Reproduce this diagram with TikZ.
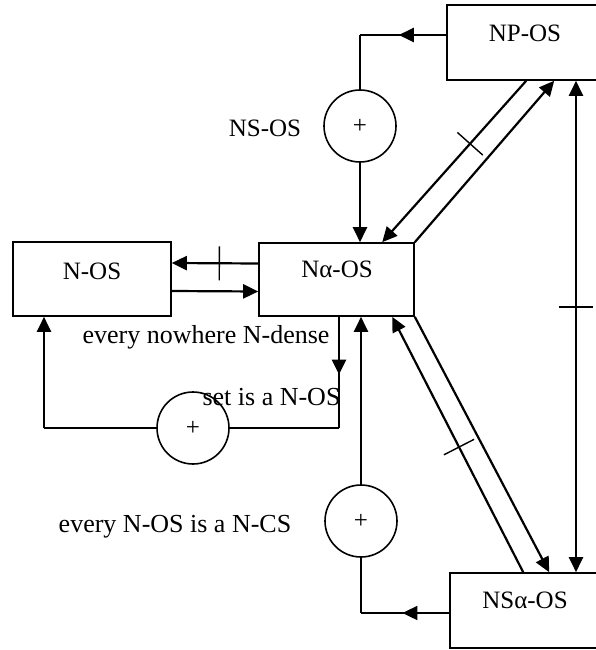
\documentclass[tikz,border=0pt]{standalone}
\usepackage{fontspec}
\setmainfont{Liberation Serif}
\usetikzlibrary{arrows.meta,decorations.markings}
\tikzset{
  box/.style={draw, line width=1.6pt, rectangle, inner sep=0pt},
  sumc/.style={draw, circle, line width=1.6pt, minimum size=72pt, inner sep=0pt, font=\fontsize{25}{25}\selectfont},
  lbl/.style={font=\fontsize{25}{25}\selectfont, inner sep=0pt},
  txt/.style={font=\fontsize{26}{26}\selectfont, inner sep=0pt},
  conn/.style={line width=2.2pt},
  arr/.style={conn, -{Triangle[length=15pt,width=14pt]}},
  arrboth/.style={conn, {Triangle[length=15pt,width=14pt]}-{Triangle[length=15pt,width=14pt]}},
  midarrow/.style={conn, postaction={decorate}, decoration={markings, mark=at position #1 with {\arrow{Triangle[length=15pt,width=14pt]}}}},
  midarrow/.default=0.5,
  tickmark/.style={postaction={decorate}, decoration={markings, mark=at position #1 with {\draw[-, line width=1.4pt] (0pt,-17pt) -- (0pt,17pt);}}},
}
\begin{document}
\begin{tikzpicture}[x=1pt,y=-1pt]
\fill[white] (0,0) rectangle (595,650);
\useasboundingbox (0,0) rectangle (595,650);

% boxes
\node[box, minimum width=153pt, minimum height=75pt] (np) at (523.5,42.5) {};
\node[box, minimum width=158pt, minimum height=74pt] (nos) at (92,279) {};
\node[box, minimum width=155pt, minimum height=73pt] (na) at (336.5,279.5) {};
\node[box, minimum width=150pt, minimum height=75pt] (nsa) at (525,610.5) {};

% box labels
\node[lbl] (npl) at (525,33) {NP-OS};
\node[lbl] (nosl) at (92,271) {N-OS};
\node[lbl] (nal) at (337,269) {Nα-OS};
\node[lbl] (nsal) at (525,600) {NSα-OS};

% summing circles
\node[sumc] (c1) at (360,126) {+};
\node[sumc] (c2) at (193,428) {+};
\node[sumc] (c3) at (361,521) {+};

% texts
\node[lbl] (t1) at (265,128) {NS-OS};
\node[txt, anchor=base] (t2) at (206,343) {every nowhere N-dense};
\node[txt, anchor=base] (t3) at (271.5,405) {set is a N-OS};
\node[txt, anchor=base] (t4) at (175,532) {every N-OS is a N-CS};

% helper coordinates
\coordinate (k1) at (360,35);
\coordinate (k2) at (339,428);
\coordinate (k3) at (44,428);
\coordinate (k4) at (361,613);
\coordinate (k5) at (576,300);

% NP-OS -> NS-OS sum -> Na-OS
\draw[midarrow=0.55] (np.west |- k1) -- (k1);
\draw[conn] (k1) -- (c1.north);
\draw[arr] (c1.south) -- (c1.south |- na.north);

% Na-OS <-> N-OS
\draw[arr, tickmark=0.45] ([yshift=16pt]na.west) -- ([yshift=16pt]nos.east);
\draw[arr] ([yshift=-12pt]nos.east) -- ([yshift=-12pt]na.west);

% Na-OS -> sum -> N-OS
\draw[midarrow=0.52] (na.south -| k2) -- (k2);
\draw[conn] (k2) -- (c2.east);
\draw[conn] (c2.west) -- (k3);
\draw[arr] (k3) -- (k3 |- nos.south);

% NSa-OS -> sum -> Na-OS
\draw[conn] (c3.south) -- (k4);
\draw[midarrow=0.53] (nsa.west |- k4) -- (k4);
\draw[arr] (c3.north) -- (c3.north |- na.south);

% vertical double arrow
\draw[arrboth, tickmark=0.46] (np.south -| k5) -- (nsa.north -| k5);

% diagonals upper
\draw[arr] (na.north east) -- ([xshift=108pt]np.south west);
\draw[arr, tickmark=0.39] ([xshift=80pt]np.south west) -- ([xshift=124pt]na.north west);

% diagonals lower
\draw[arr, tickmark=0.49] ([xshift=74pt]nsa.north west) -- ([xshift=134pt]na.south west);
\draw[arr] (na.south east) -- ([xshift=100pt]nsa.north west);
\end{tikzpicture}
\end{document}
